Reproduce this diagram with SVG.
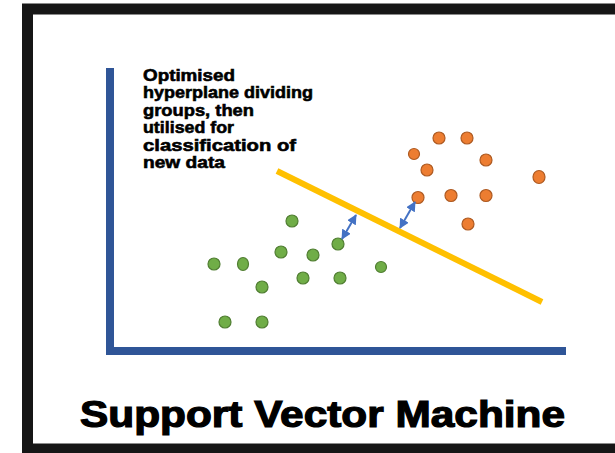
<svg xmlns="http://www.w3.org/2000/svg" width="615" height="453" viewBox="0 0 615 453">
<style>
.ann{font-family:"Liberation Sans",Arial,sans-serif;font-weight:bold;font-size:17px;fill:#000;stroke:#000;stroke-width:0.6}
.title{font-family:"Liberation Sans",Arial,sans-serif;font-weight:bold;font-size:36px;fill:#000;stroke:#000;stroke-width:1.2}
.g{fill:#70AD47;stroke:#507E32;stroke-width:1.2}
.o{fill:#ED7D31;stroke:#AE5A21;stroke-width:1.2}
.axis{stroke:#2F5597;stroke-width:8;fill:none}
.arr{stroke:#4472C4;stroke-width:2;fill:none;marker-start:url(#ah);marker-end:url(#ah)}
</style>
<defs>
<marker id="ah" viewBox="0 0 10 10" refX="9" refY="5" markerWidth="5" markerHeight="5" orient="auto-start-reverse">
<path d="M0,0 L10,5 L0,10 Z" fill="#4472C4"/>
</marker>
</defs>
<rect x="0" y="0" width="615" height="453" fill="#fff"/>
<rect id="frame" x="27.5" y="9" width="600" height="440" fill="none" stroke="#161616" stroke-width="11"/>
<g id="axes">
<line class="axis" x1="110" y1="68" x2="110" y2="355"/>
<line class="axis" x1="106" y1="351" x2="566" y2="351"/>
</g>
<g id="annotation">
<text class="ann" x="143" y="80.5" textLength="92" lengthAdjust="spacingAndGlyphs">Optimised</text>
<text class="ann" x="143" y="98" textLength="170" lengthAdjust="spacingAndGlyphs">hyperplane dividing</text>
<text class="ann" x="143" y="115.5" textLength="111" lengthAdjust="spacingAndGlyphs">groups, then</text>
<text class="ann" x="143" y="133" textLength="91" lengthAdjust="spacingAndGlyphs">utilised for</text>
<text class="ann" x="143" y="150.5" textLength="153" lengthAdjust="spacingAndGlyphs">classification of</text>
<text class="ann" x="143" y="168" textLength="82" lengthAdjust="spacingAndGlyphs">new data</text>
</g>
<g id="hyperplane">
<line x1="277" y1="171" x2="542" y2="302" stroke="#FFC000" stroke-width="6"/>
</g>
<g id="green-group">
<circle class="g" cx="292" cy="221" r="6"/>
<circle class="g" cx="338" cy="244" r="6"/>
<circle class="g" cx="281" cy="252" r="6"/>
<circle class="g" cx="313" cy="255" r="6"/>
<circle class="g" cx="214" cy="264" r="6"/>
<ellipse class="g" cx="243" cy="264" rx="5.5" ry="6.5"/>
<circle class="g" cx="381" cy="267" r="5.5"/>
<circle class="g" cx="262" cy="287" r="6"/>
<circle class="g" cx="303" cy="278" r="6"/>
<circle class="g" cx="340" cy="278" r="6"/>
<circle class="g" cx="225" cy="322" r="6"/>
<circle class="g" cx="262" cy="322" r="6"/>
</g>
<g id="orange-group">
<circle class="o" cx="439" cy="138" r="6"/>
<circle class="o" cx="467" cy="138" r="6"/>
<circle class="o" cx="414" cy="154" r="5.5"/>
<circle class="o" cx="486" cy="160" r="6"/>
<circle class="o" cx="427" cy="170" r="6"/>
<ellipse class="o" cx="539" cy="177" rx="6" ry="6.5"/>
<circle class="o" cx="418" cy="197.5" r="6"/>
<circle class="o" cx="451" cy="195.5" r="6"/>
<circle class="o" cx="486" cy="195.5" r="6"/>
<circle class="o" cx="468" cy="224" r="6"/>
</g>
<g id="connectors">
<line class="arr" x1="342" y1="239" x2="356" y2="215"/>
<line class="arr" x1="400" y1="228" x2="415" y2="202"/>
</g>
<g id="title">
<text class="title" x="80" y="427" textLength="485" lengthAdjust="spacingAndGlyphs">Support Vector Machine</text>
</g>
</svg>
